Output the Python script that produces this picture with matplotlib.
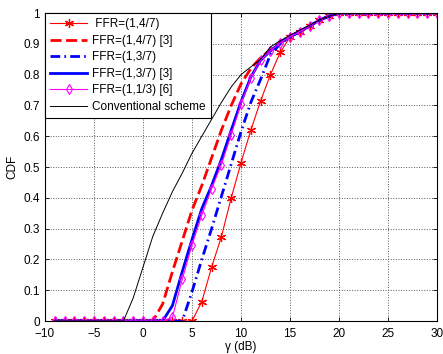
import matplotlib
matplotlib.use("Agg")
import matplotlib.pyplot as plt

plt.rcParams['font.family'] = ['Liberation Sans', 'DejaVu Sans']

# --------------------------------------------------
# Data
# --------------------------------------------------
gamma_db = [-9, -8, -7, -6, -5, -4, -3, -2, -1, 0, 1, 2, 3, 4, 5, 6, 7, 8, 9, 10,
            11, 12, 13, 14, 15, 16, 17, 18, 19, 20, 21, 22, 23, 24, 25, 26, 27, 28, 29, 30]

ffr_4_7 = [0, 0, 0, 0, 0, 0, 0, 0, 0, 0, 0, 0, 0, 0, 0,
           0.063, 0.175, 0.274, 0.40, 0.514, 0.62, 0.715, 0.80, 0.872, 0.923,
           0.94, 0.958, 0.977, 0.99, 1, 1, 1, 1, 1, 1, 1, 1, 1, 1, 1]

ffr_4_7_ref3 = [0, 0, 0, 0, 0, 0, 0, 0, 0, 0, 0,
                0.055, 0.16, 0.26, 0.36, 0.44, 0.53, 0.62, 0.70, 0.77, 0.82,
                0.855, 0.88, 0.905, 0.923, 0.94, 0.958, 0.977, 0.99,
                1, 1, 1, 1, 1, 1, 1, 1, 1, 1, 1]

ffr_3_7 = [0, 0, 0, 0, 0, 0, 0, 0, 0, 0, 0, 0, 0, 0,
           0.095, 0.20, 0.30, 0.405, 0.51, 0.615, 0.71, 0.785, 0.865, 0.90,
           0.923, 0.94, 0.958, 0.977, 0.99, 1, 1, 1, 1, 1, 1, 1, 1, 1, 1, 1]

ffr_3_7_ref3 = [0, 0, 0, 0, 0, 0, 0, 0, 0, 0, 0, 0,
                0.05, 0.16, 0.265, 0.365, 0.44, 0.525, 0.62, 0.712, 0.792,
                0.847, 0.877, 0.903, 0.923, 0.94, 0.958, 0.977, 0.99,
                1, 1, 1, 1, 1, 1, 1, 1, 1, 1, 1]

ffr_1_3_ref6 = [0, 0, 0, 0, 0, 0, 0, 0, 0, 0, 0, 0,
                0.012, 0.135, 0.247, 0.344, 0.43, 0.508, 0.605, 0.706, 0.79,
                0.847, 0.877, 0.903, 0.923, 0.94, 0.958, 0.977, 0.99,
                1, 1, 1, 1, 1, 1, 1, 1, 1, 1, 1]

conventional = [0, 0, 0, 0, 0, 0, 0, 0,
                0.075, 0.175, 0.275, 0.35, 0.42, 0.48, 0.545, 0.60, 0.655, 0.71,
                0.76, 0.80, 0.825, 0.85, 0.89, 0.91, 0.928, 0.945, 0.96, 0.978, 0.99,
                1, 1, 1, 1, 1, 1, 1, 1, 1, 1, 1]

x_ticks = [-10, -5, 0, 5, 10, 15, 20, 25, 30]
y_ticks = [0, 0.1, 0.2, 0.3, 0.4, 0.5, 0.6, 0.7, 0.8, 0.9, 1]
y_tick_labels = ["0", "0.1", "0.2", "0.3", "0.4", "0.5", "0.6", "0.7", "0.8", "0.9", "1"]

# --------------------------------------------------
# Plot
# --------------------------------------------------
fig = plt.figure(figsize=(4.43, 3.54), dpi=100)
ax = fig.add_axes([0.1016, 0.0932, 0.885, 0.870])

ax.plot(gamma_db, ffr_4_7, color='red', linewidth=0.8, marker=(6, 2, 0),
        markersize=6.5, markeredgewidth=0.9, label=' FFR=(1,4/7)')
ax.plot(gamma_db, ffr_4_7_ref3, color='red', linewidth=2.0,
        dashes=(4, 1.6), label='FFR=(1,4/7) [3]')
ax.plot(gamma_db, ffr_3_7, color='blue', linewidth=2.0,
        dashes=(3.5, 1.5, 0.6, 1.5), label='FFR=(1,3/7)')
ax.plot(gamma_db, ffr_3_7_ref3, color='blue', linewidth=2.0,
        linestyle='-', label='FFR=(1,3/7) [3]')
ax.plot(gamma_db, ffr_1_3_ref6, color='magenta', linewidth=0.8, marker='d',
        markersize=5.5, markerfacecolor='none', markeredgewidth=0.8,
        label='FFR=(1,1/3) [6]')
ax.plot(gamma_db, conventional, color='black', linewidth=0.7,
        label='Conventional scheme')

ax.set_xlim(-10, 30)
ax.set_ylim(0, 1)
ax.set_xticks(x_ticks)
ax.set_yticks(y_ticks)
ax.set_yticklabels(y_tick_labels)
ax.set_xticklabels([str(t).replace('-', '\u2212') for t in x_ticks])
ax.tick_params(direction='in', top=True, right=True, labelsize=8.5,
               length=3, width=0.6)
ax.tick_params(axis='x', pad=5)
ax.grid(True, linestyle=':', color='0.35', linewidth=0.7)
for sp in ax.spines.values():
    sp.set_linewidth(0.8)

ax.set_xlabel('\u03b3 (dB)', fontsize=8.5, labelpad=1)
ax.set_ylabel('CDF', fontsize=8.5, labelpad=4)

leg = ax.legend(loc='upper left', fontsize=8.5, frameon=True, fancybox=False,
                edgecolor='black', framealpha=1, borderaxespad=0,
                handlelength=3.1, borderpad=0.45, labelspacing=0.38,
                handletextpad=0.45)
leg.get_frame().set_linewidth(0.8)

fig.savefig('out.png', dpi=100)
